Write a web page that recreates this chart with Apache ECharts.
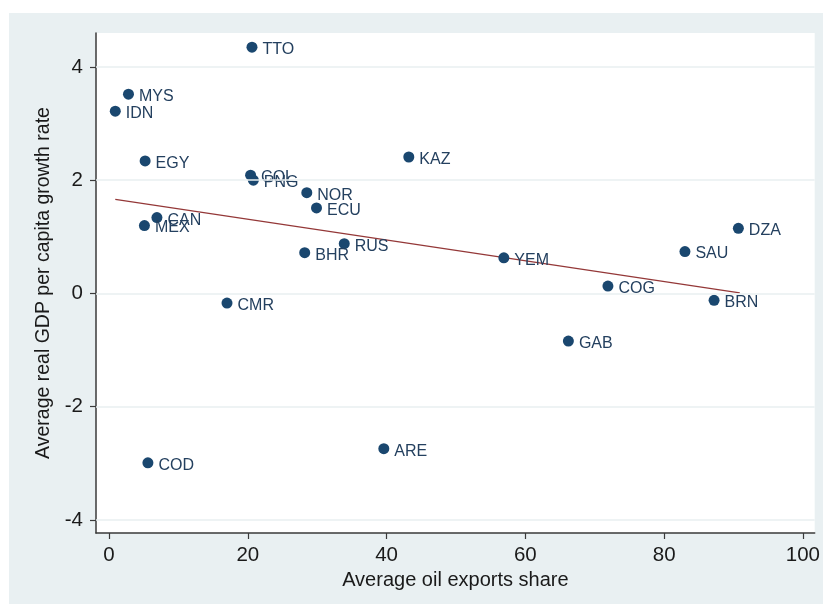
<!DOCTYPE html>
<html>
<head>
<meta charset="utf-8">
<script src="https://cdn.jsdelivr.net/npm/echarts@6/dist/echarts.min.js"></script>
<style>
  html, body { margin: 0; padding: 0; background: #ffffff; }
  #frame { position: absolute; left: 9px; top: 13px; width: 814px; height: 591px; background: #e9f0f2; }
  #chart { position: absolute; left: 0; top: 0; width: 823px; height: 604px; }
</style>
</head>
<body>
<div id="frame"></div>
<div id="chart"></div>
<script>
// Country codes, average oil exports share (x) and average real GDP per capita growth (y)
const countries = ['TTO', 'MYS', 'IDN', 'EGY', 'KAZ', 'COL', 'PNG', 'NOR', 'ECU', 'CAN', 'MEX',
                   'RUS', 'BHR', 'CMR', 'YEM', 'DZA', 'SAU', 'COG', 'BRN', 'GAB', 'ARE', 'COD'];
const oilShare = [20.6, 2.8, 0.9, 5.2, 43.2, 20.4, 20.8, 28.5, 29.9, 6.9, 5.1,
                  33.9, 28.2, 17.0, 56.9, 90.7, 83.0, 71.9, 87.2, 66.2, 39.6, 5.6];
const gdpGrowth = [4.35, 3.52, 3.22, 2.34, 2.41, 2.09, 2.00, 1.78, 1.51, 1.34, 1.20,
                   0.88, 0.72, -0.17, 0.63, 1.15, 0.74, 0.13, -0.12, -0.84, -2.74, -2.99];

// Fitted values of the linear trend at its two ends
const fitX = [0.9, 90.9];
const fitY = [1.66, 0.01];

// Tick values
const xTicks = [0, 20, 40, 60, 80, 100];
const yTicks = [-4, -2, 0, 2, 4];

const FONT = '"Liberation Sans", Arial, Helvetica, sans-serif';
const NAVY = '#1a476f';
const LABEL = '#24405f';

const points = countries.map((c, i) => ({ name: c, value: [oilShare[i], gdpGrowth[i]] }));

const chart = echarts.init(document.getElementById('chart'), null, { renderer: 'canvas' });
chart.setOption({
  backgroundColor: 'transparent',
  animation: false,
  grid: { left: 96, top: 33, right: 8, bottom: 71, show: true, backgroundColor: '#ffffff', borderWidth: 0 },
  xAxis: {
    type: 'value',
    min: -1.88,
    max: 101.7,
    name: 'Average oil exports share',
    nameLocation: 'middle',
    nameGap: 36,
    nameTextStyle: { fontFamily: FONT, fontSize: 20, color: '#1a1a1a' },
    axisLine: { show: true, onZero: false, lineStyle: { color: '#3a3a3a', width: 1.5 } },
    axisTick: { show: true, length: 6, customValues: xTicks, lineStyle: { color: '#3a3a3a', width: 1.2 } },
    axisLabel: { customValues: xTicks, fontFamily: FONT, fontSize: 20.5, color: '#1a1a1a', margin: 12 },
    splitLine: { show: false }
  },
  yAxis: {
    type: 'value',
    min: -4.23,
    max: 4.6,
    name: 'Average real GDP per capita growth rate',
    nameLocation: 'middle',
    nameGap: 40,
    nameTextStyle: { fontFamily: FONT, fontSize: 19.5, color: '#1a1a1a' },
    axisLine: { show: true, onZero: false, lineStyle: { color: '#3a3a3a', width: 1.5 } },
    axisTick: { show: true, length: 6, customValues: yTicks, lineStyle: { color: '#3a3a3a', width: 1.2 } },
    axisLabel: { customValues: yTicks, fontFamily: FONT, fontSize: 20.5, color: '#1a1a1a', margin: 13 },
    splitLine: { show: false }
  },
  series: [
    {
      type: 'line',
      data: [],
      silent: true,
      markLine: {
        silent: true,
        symbol: 'none',
        label: { show: false },
        lineStyle: { color: '#e9eff1', width: 1.5, type: 'solid' },
        data: yTicks.map(v => ({ yAxis: v }))
      }
    },
    {
      type: 'line',
      data: fitX.map((x, i) => [x, fitY[i]]),
      showSymbol: false,
      symbol: 'none',
      silent: true,
      lineStyle: { color: '#943838', width: 1.3 },
      z: 3
    },
    {
      type: 'scatter',
      data: points,
      symbol: 'circle',
      symbolSize: 11,
      itemStyle: { color: NAVY, opacity: 1 },
      label: {
        show: true,
        // placed to the right of the marker, a little below its centre
        position: [16, 8],
        align: 'left',
        verticalAlign: 'middle',
        formatter: p => p.name,
        fontFamily: FONT,
        fontSize: 16,
        color: LABEL
      },
      labelLayout: { hideOverlap: false },
      z: 4
    }
  ]
});
</script>
</body>
</html>
